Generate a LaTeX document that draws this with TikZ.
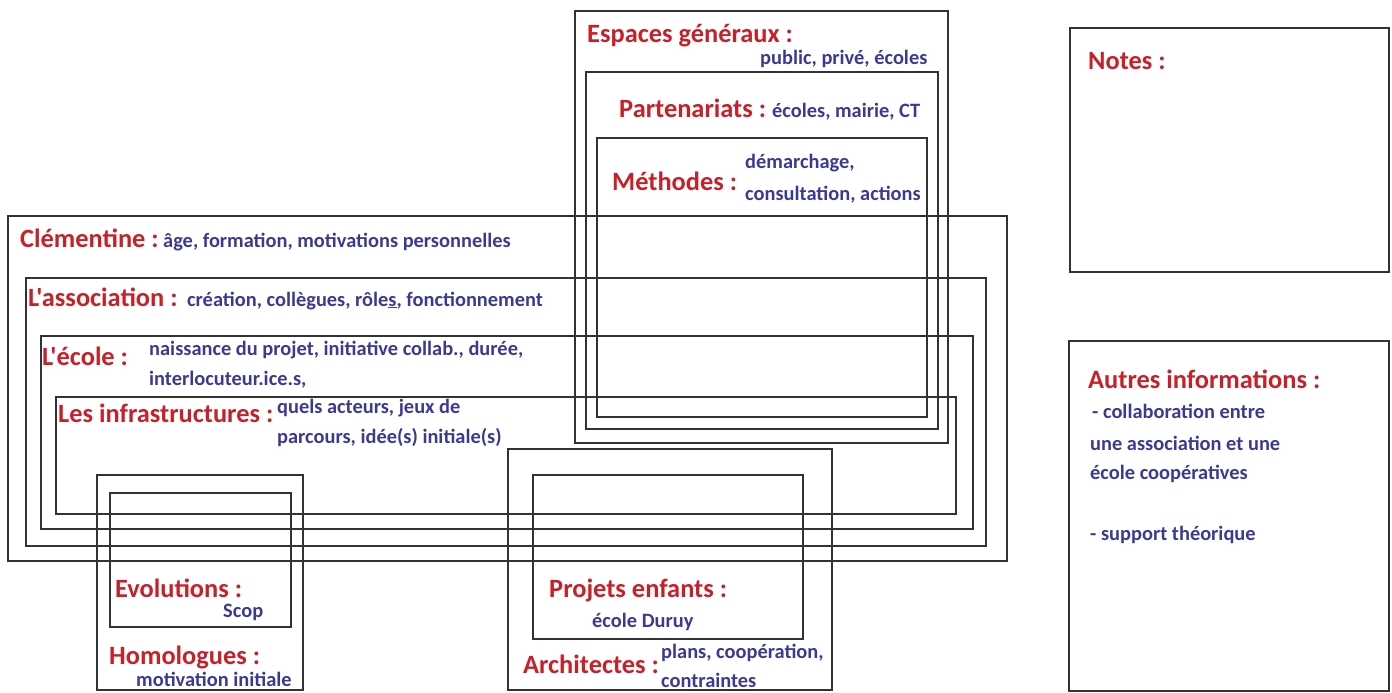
\documentclass[tikz,border=0pt]{standalone}
\usepackage{fontspec}
\setmainfont{Carlito}[Ligatures=TeXOff]
\definecolor{hred}{RGB}{200,32,40}
\definecolor{hblue}{RGB}{58,58,150}
\begin{document}
\begin{tikzpicture}[x=1pt,y=-1pt,
  box/.style={draw=black!80,line width=1.3pt},
  hd/.style={anchor=base west,inner sep=0pt,text=hred,font=\bfseries\fontsize{26.4}{30}\selectfont},
  tx/.style={anchor=base west,inner sep=0pt,text=hblue,font=\bfseries\fontsize{20.4}{24}\selectfont}]
\useasboundingbox (0,0) rectangle (1392,693);
% boxes
\draw[box] (575,11) rectangle (948,443);
\draw[box] (586,72) rectangle (938,429);
\draw[box] (597,138) rectangle (927,417);
\draw[box] (8,216) rectangle (1007,561);
\draw[box] (26,278) rectangle (986,546);
\draw[box] (41,336) rectangle (973,529);
\draw[box] (56,397) rectangle (956,514);
\draw[box] (97,475) rectangle (303,690);
\draw[box] (110,493) rectangle (291,627);
\draw[box] (508,449) rectangle (832,690);
\draw[box] (533,475) rectangle (803,639);
\draw[box] (1070,28) rectangle (1389,272);
\draw[box] (1069,341) rectangle (1389,691);
% texts
\node[hd] (esp) at (587,43) {Espaces généraux :};
\node[tx] (espt) at (760,64) {public, privé, écoles};
\node[hd] (par) at (619,117) {Partenariats :};
\node[tx] (part) at (772,117) {écoles, mairie, CT};
\node[hd] (met) at (612,190) {Méthodes :};
\node[tx] (met1) at (745,168) {démarchage,};
\node[tx] (met2) at (745,200) {consultation, actions};
\node[hd] (cle) at (20,247) {Clémentine :};
\node[tx] (clet) at (163,247) {âge, formation, motivations personnelles};
\node[hd] (ass) at (28,306) {L'association :};
\node[tx] (asst) at (187,306) {création, collègues, rôle\underline{s}, fonctionnement};
\node[hd] (eco) at (42,365) {L'école :};
\node[tx] (eco1) at (149,355) {naissance du projet, initiative collab., durée,};
\node[tx] (eco2) at (149,385) {interlocuteur.ice.s,};
\node[hd] (inf) at (58,422) {Les infrastructures :};
\node[tx] (inf1) at (277,413) {quels acteurs, jeux de};
\node[tx] (inf2) at (277,443) {parcours, idée(s) initiale(s)};
\node[hd] (evo) at (115,597) {Evolutions :};
\node[tx] (evot) at (223,617) {Scop};
\node[hd] (hom) at (109,664) {Homologues :};
\node[tx] (homt) at (136,686) {motivation initiale};
\node[hd] (pro) at (549,597) {Projets enfants :};
\node[tx] (prot) at (592,627) {école Duruy};
\node[hd] (arc) at (523,673) {Architectes :};
\node[tx] (arc1) at (661,658) {plans, coopération,};
\node[tx] (arc2) at (661,687) {contraintes};
\node[hd] (not) at (1088,70) {Notes :};
\node[hd] (aut) at (1088,388) {Autres informations :};
\node[tx] (aut1) at (1092,418) {- collaboration entre};
\node[tx] (aut2) at (1090,450) {une association et une};
\node[tx] (aut3) at (1090,479) {école coopératives};
\node[tx] (aut4) at (1090,540) {- support théorique};
\end{tikzpicture}
\end{document}
